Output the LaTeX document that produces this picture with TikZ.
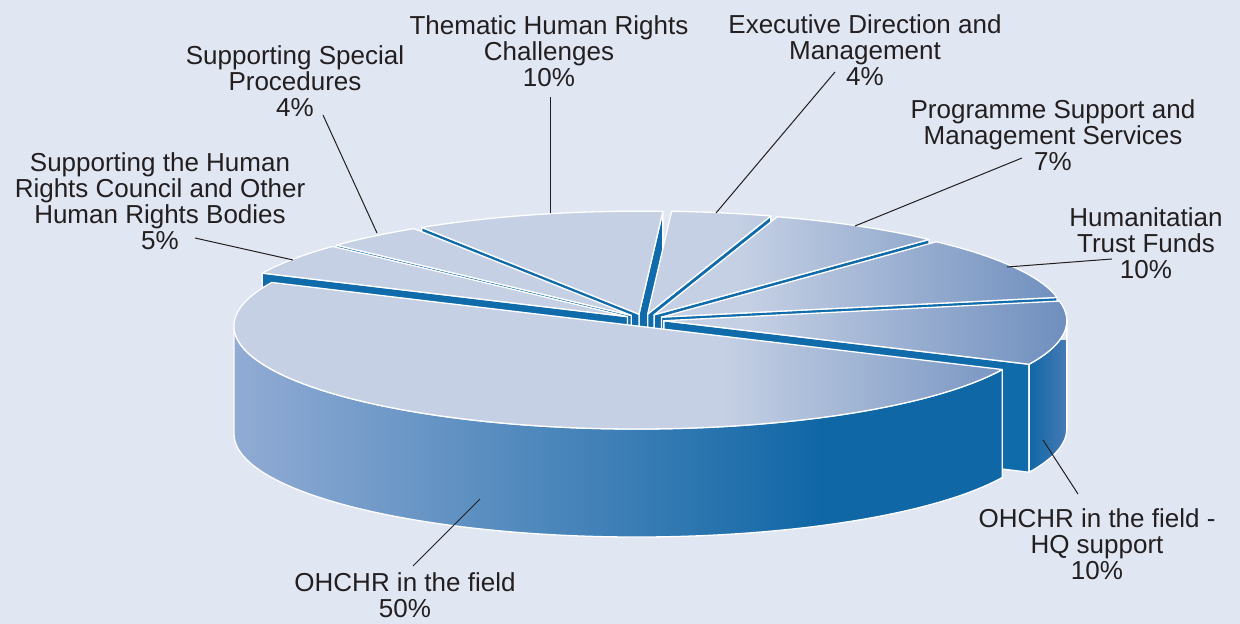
\documentclass[tikz,border=0pt]{standalone}
\usepackage{fontspec}
\setmainfont{Liberation Sans}
\usepackage{tikz}

\definecolor{bgblue}{HTML}{E0E6F2}
\definecolor{toplight}{HTML}{C5D0E4}
\definecolor{topdark}{HTML}{6A8BBC}
\definecolor{sidelight}{HTML}{95ADD5}
\definecolor{sidedark}{HTML}{1067A6}
\definecolor{hqlight}{HTML}{4A7BB6}
\definecolor{cutblue}{HTML}{0F6BAA}
\definecolor{inkgray}{HTML}{231F20}

\pgfdeclarehorizontalshading{pietop}{100bp}{color(0bp)=(toplight); color(25bp)=(toplight); color(55bp)=(toplight); color(75bp)=(topdark); color(100bp)=(topdark)}
\pgfdeclarehorizontalshading{pieside}{100bp}{color(0bp)=(sidelight); color(25bp)=(sidelight); color(61bp)=(sidedark); color(100bp)=(sidedark)}

\newcommand{\pieRx}{403}
\newcommand{\pieRy}{103}
\newcommand{\pieH}{108}

% top of a slice, from angle #1 to #2
\newcommand{\topface}[2]{%
  \begin{scope}
    \clip (0,0) -- ({\pieRx*cos(#1)},{\pieRy*sin(#1)}) arc[start angle=#1, end angle=#2, x radius=\pieRx, y radius=\pieRy] -- cycle;
    \shade[shading=pietop] (-420,-120) rectangle (420,120);
  \end{scope}
  \draw[face] (0,0) -- ({\pieRx*cos(#1)},{\pieRy*sin(#1)}) arc[start angle=#1, end angle=#2, x radius=\pieRx, y radius=\pieRy] -- cycle;}

% cut wall of a slice at angle #1
\newcommand{\cutface}[1]{%
  \draw[cut] (0,0) -- ({\pieRx*cos(#1)},{\pieRy*sin(#1)}) -- ++(0,-\pieH) -- (0,-\pieH) -- cycle;}

% outer wall from #1 to #2
\newcommand{\rimpath}[2]{({\pieRx*cos(#1)},{\pieRy*sin(#1)}) arc[start angle=#1, end angle=#2, x radius=\pieRx, y radius=\pieRy] -- ++(0,-\pieH) arc[start angle=#2, end angle=#1, x radius=\pieRx, y radius=\pieRy] -- cycle}

\begin{document}
\begin{tikzpicture}[
    x=0.5pt, y=0.5pt,
    face/.style={draw=white, line width=0.65pt, line join=round},
    cut/.style={face, fill=cutblue},
    leader/.style={draw=inkgray, line width=0.5pt},
    lbl/.style={font=\fontsize{13}{13}\selectfont, text=inkgray, align=center, inner sep=0pt}
    ]
    \useasboundingbox (-645,-306) rectangle (595,318);
    \fill[bgblue] (-645,-306) rectangle (595,318);

    \begin{scope}[shift={(-1,-2)}]
    % back to front: Thematic first, then outwards on both sides
    \begin{scope}[shift={({20*cos(104.6)},{6*sin(104.6)})}] % Thematic
      \cutface{86.6}\cutface{122.6}\topface{86.6}{122.6}
    \end{scope}
    \begin{scope}[shift={({20*cos(79.4)},{6*sin(79.4)})}] % Executive
      \cutface{72.2}\topface{72.2}{86.6}
    \end{scope}
    \begin{scope}[shift={({20*cos(129.8)},{6*sin(129.8)})}] % Special Procedures
      \cutface{137}\topface{122.6}{137}
    \end{scope}
    \begin{scope}[shift={({20*cos(59.6)},{6*sin(59.6)})}] % Programme Support
      \cutface{47}\topface{47}{72.2}
    \end{scope}
    \begin{scope}[shift={({20*cos(146)},{6*sin(146)})}] % Council
      \cutface{155}\topface{137}{155}
    \end{scope}
    \begin{scope}[shift={({20*cos(29)},{6*sin(29)})}] % Trust Funds
      \cutface{11}\topface{11}{47}
    \end{scope}
    \begin{scope}[shift={({20*cos(-7)},{6*sin(-7)})}] % HQ support
      \cutface{-25}
      \begin{scope}
        \clip \rimpath{-25}{0};
        \shade[left color=sidedark, right color=hqlight] (365,-150) rectangle (405,-20);
      \end{scope}
      \draw[face] \rimpath{-25}{0};
      \topface{-25}{11}
    \end{scope}
    \begin{scope}[shift={(-7,-6)}] % in the field
      \begin{scope}
        \clip \rimpath{180}{335};
        \shade[shading=pieside] (-420,-240) rectangle (420,20);
      \end{scope}
      \draw[face] \rimpath{180}{335};
      \topface{155}{335}
    \end{scope}
    \end{scope}

    % labels
    \node[lbl] (lbHRC) at (-485,117) {Supporting the Human\\Rights Council and Other\\Human Rights Bodies\\5\%};
    \node[lbl] (lbSP) at (-350,237) {Supporting Special\\Procedures\\4\%};
    \node[lbl] (lbThem) at (-96,267) {Thematic Human Rights\\Challenges\\10\%};
    \node[lbl] (lbExec) at (220,268) {Executive Direction and\\Management\\4\%};
    \node[lbl] (lbProg) at (408,183) {Programme Support and\\Management Services\\7\%};
    \node[lbl] (lbHum) at (501,75) {Humanitatian\\Trust Funds\\10\%};
    \node[lbl] (lbHQ) at (452,-226) {OHCHR in the field -\\HQ support\\10\%};
    \node[lbl] (lbField) at (-240,-277) {OHCHR in the field\\50\%};

    % leader lines
    \coordinate (hrc-a) at (-450,80);   \coordinate (hrc-b) at (-352,58);
    \coordinate (sp-a) at (-322,203);   \coordinate (sp-b) at (-268,85);
    \coordinate (them-a) at (-95,221);  \coordinate (them-b) at (-95,105);
    \coordinate (exec-a) at (190,246);  \coordinate (exec-b) at (71,105);
    \coordinate (prog-a) at (377,160);  \coordinate (prog-b) at (210,92);
    \coordinate (hum-a) at (467,59);    \coordinate (hum-b) at (362,51);
    \coordinate (hq-a) at (433,-176);   \coordinate (hq-b) at (398,-122);
    \coordinate (field-a) at (-232,-248); \coordinate (field-b) at (-165,-181);
    \foreach \n in {hrc,sp,them,exec,prog,hum,hq,field}
      \draw[leader] (\n-a) -- (\n-b);
\end{tikzpicture}
\end{document}
